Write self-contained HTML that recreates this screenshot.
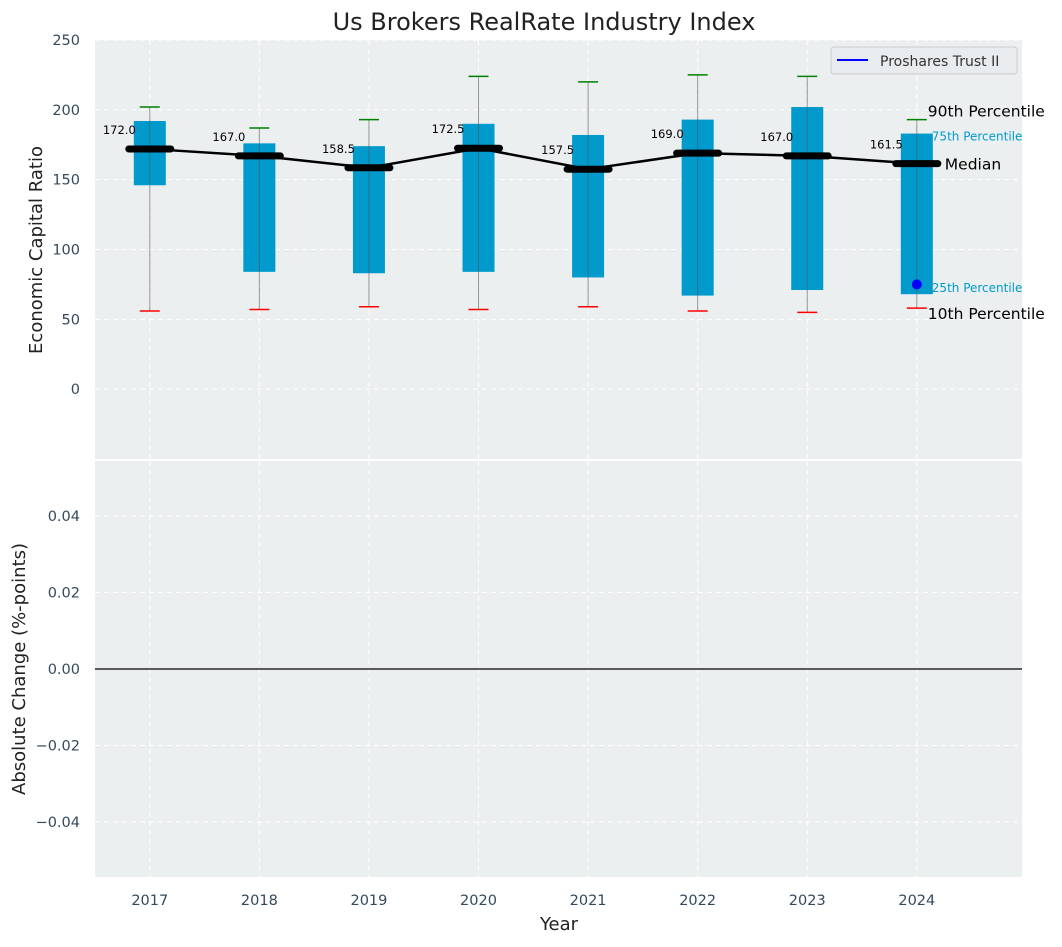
<!DOCTYPE html>
<html><head><meta charset="utf-8"><style>
body{margin:0;background:#fff;font-family:"Liberation Sans","DejaVu Sans",sans-serif}
svg text{font-family:"DejaVu Sans","Liberation Sans",sans-serif}
</style></head><body>
<svg id="c" width="1062" height="942" xmlns="http://www.w3.org/2000/svg"></svg>
<script>
const years=[2017,2018,2019,2020,2021,2022,2023,2024];
const p90=[202,187,193,224,220,225,224,193];
const q75=[192,176,174,190,182,193,202,183];
const medians=[172,167,158.5,172.5,157.5,169,167,161.5];
const q25=[146,84,83,84,80,67,71,68];
const p10=[56,57,59,57,59,56,55,58];
const companyVal=[75];
const topTicks=[0,50,100,150,200,250];
const botTicks=[-0.04,-0.02,0,0.02,0.04];
const NS="http://www.w3.org/2000/svg";
const svg=document.getElementById('c');
function el(t,a,p){const e=document.createElementNS(NS,t);for(const k in a)e.setAttribute(k,a[k]);(p||svg).appendChild(e);return e;}
const L=95,R=1022,T1=40,B1=459,T2=461,B2=877;
const x=v=>L+(v-2016.5)/(2024.96-2016.5)*(R-L);
const y1=v=>T1+(250-v)/300*(B1-T1);
const y2=v=>T2+(0.0544-v)/0.1088*(B2-T2);
let r=el('rect',{x:L,y:T1,width:R-L,height:B1-T1,fill:'#ebeff0'});
r=el('rect',{x:L,y:T2,width:R-L,height:B2-T2,fill:'#ebeff0'});
years.forEach(v=>{el('line',{x1:x(v),x2:x(v),y1:T1,y2:B1,stroke:'#fff','stroke-dasharray':'5,4','stroke-width':1});el('line',{x1:x(v),x2:x(v),y1:T2,y2:B2,stroke:'#fff','stroke-dasharray':'5,4','stroke-width':1});
 const t=el('text',{x:x(v),y:905,'text-anchor':'middle','font-size':14.5,fill:'#34495e'});t.textContent=v;});
topTicks.forEach(v=>{el('line',{x1:L,x2:R,y1:y1(v),y2:y1(v),stroke:'#fff','stroke-dasharray':'5,4'});const t=el('text',{x:80,y:y1(v)+5,'text-anchor':'end','font-size':14.5,fill:'#34495e'});t.textContent=v;});
botTicks.forEach(v=>{el('line',{x1:L,x2:R,y1:y2(v),y2:y2(v),stroke:'#fff','stroke-dasharray':'5,4'});const t=el('text',{x:80,y:y2(v)+5,'text-anchor':'end','font-size':14.5,fill:'#34495e'});t.textContent=(v<0?'\u2212':'')+Math.abs(v).toFixed(2);});
el('line',{x1:L,x2:R,y1:y2(0),y2:y2(0),stroke:'#000','stroke-width':1.2});
years.forEach((v,i)=>{const cx=x(v);
 const b=el('rect',{x:cx-16,y:y1(q75[i]),width:32,height:y1(q25[i])-y1(q75[i]),fill:'#009acd'});
 el('line',{x1:cx,x2:cx,y1:y1(p90[i]),y2:y1(p10[i]),stroke:'#555','stroke-opacity':0.6,'stroke-width':1});
 el('line',{x1:cx-10,x2:cx+10,y1:y1(p90[i]),y2:y1(p90[i]),stroke:'green','stroke-width':1.5});
 el('line',{x1:cx-10,x2:cx+10,y1:y1(p10[i]),y2:y1(p10[i]),stroke:'red','stroke-width':1.5});
});
let pts=years.map((v,i)=>x(v)+','+y1(medians[i])).join(' ');
const pl=el('polyline',{points:pts,fill:'none',stroke:'#000','stroke-width':2.5});
years.forEach((v,i)=>{const cx=x(v);const m=el('line',{x1:cx-21,x2:cx+21,y1:y1(medians[i]),y2:y1(medians[i]),stroke:'#000','stroke-width':7,'stroke-linecap':'round'});
 const t=el('text',{x:cx-14,y:y1(medians[i])-15,'text-anchor':'end','font-size':11.5,fill:'#000'});t.textContent=medians[i].toFixed(1);});
const dot=el('circle',{cx:x(2024),cy:y1(companyVal[0]),r:5,fill:'#0000ff'});
const lx=x(2024);
[[ '90th Percentile',lx+11,y1(p90[7])-3,15.5,'#000'],['75th Percentile',lx+15,y1(q75[7])+7,12,'#009acd'],['Median',lx+28,y1(medians[7])+6,15.5,'#000'],['25th Percentile',lx+15,y1(q25[7])-2,12,'#009acd'],['10th Percentile',lx+11,y1(p10[7])-9+20,15.5,'#000']].forEach(a=>{const t=el('text',{x:a[1],y:a[2],'font-size':a[3],fill:a[4]});t.textContent=a[0];});
const lg=el('g',{});
el('rect',{x:831,y:47,width:186,height:27,rx:3,fill:'#e8ecef',stroke:'#ccc'},lg);
el('line',{x1:837,x2:868,y1:60,y2:60,stroke:'#0000ff','stroke-width':2},lg);
let t=el('text',{x:880,y:66,'font-size':14,fill:'#333'},lg);t.textContent='Proshares Trust II';
t=el('text',{x:544,y:30,'text-anchor':'middle','font-size':24,fill:'#222'});t.textContent='Us Brokers RealRate Industry Index';
t=el('text',{x:559,y:930,'text-anchor':'middle','font-size':18,fill:'#222'});t.textContent='Year';
t=el('text',{x:0,y:0,'text-anchor':'middle','font-size':18,fill:'#222',transform:'translate(42,250) rotate(-90)'});t.textContent='Economic Capital Ratio';
t=el('text',{x:0,y:0,'text-anchor':'middle','font-size':18,fill:'#222',transform:'translate(25,669) rotate(-90)'});t.textContent='Absolute Change (%-points)';
</script>
</body></html>
